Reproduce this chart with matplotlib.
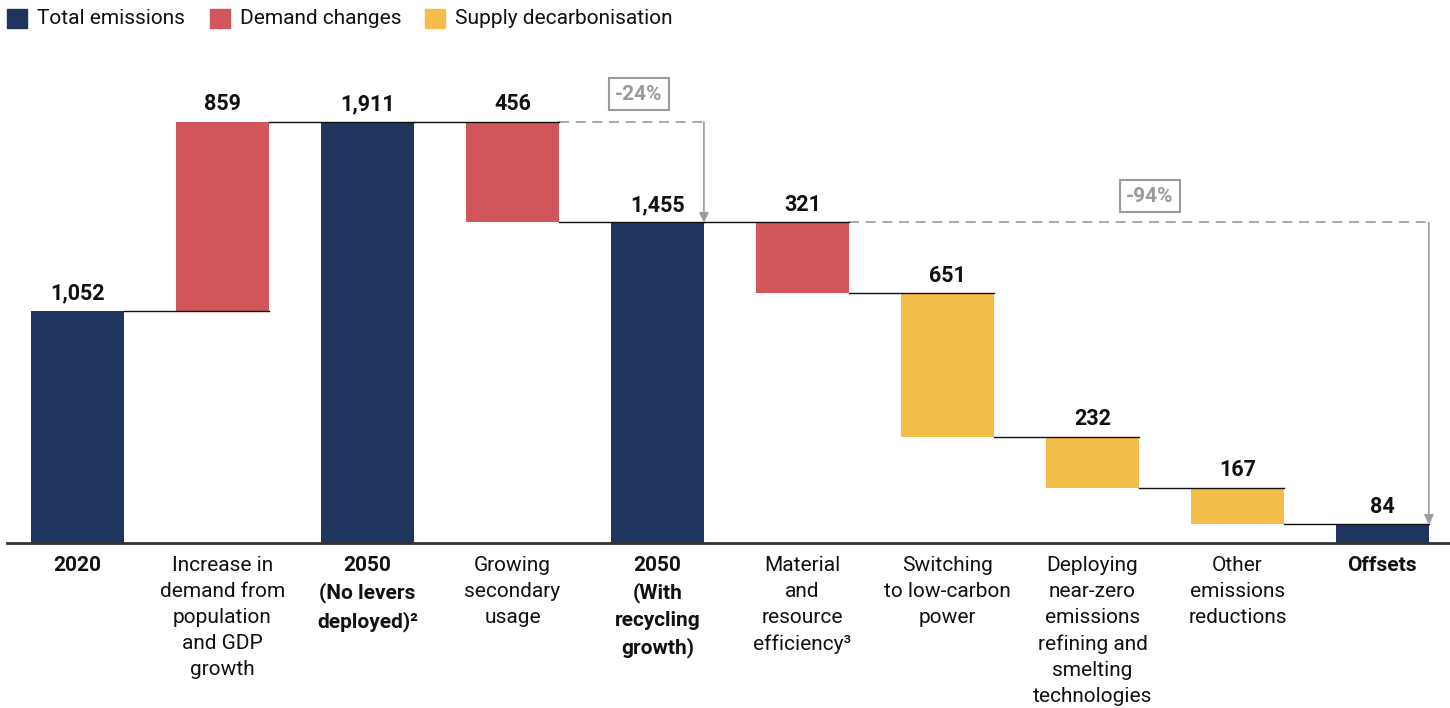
import matplotlib
matplotlib.use("Agg")
import matplotlib.pyplot as plt
from matplotlib.patches import Rectangle

plt.rcParams['font.family'] = ['Roboto', 'DejaVu Sans']

# Waterfall steps (Mt CO2e)
categories = [
    "2020",
    "Increase in\ndemand from\npopulation\nand GDP\ngrowth",
    "2050\n(No levers\ndeployed)²",
    "Growing\nsecondary\nusage",
    "2050\n(With\nrecycling\ngrowth)",
    "Material\nand\nresource\nefficiency³",
    "Switching\nto low-carbon\npower",
    "Deploying\nnear-zero\nemissions\nrefining and\nsmelting\ntechnologies",
    "Other\nemissions\nreductions",
    "Offsets",
]
values = [1052, 859, 1911, -456, 1455, -321, -651, -232, -167, 84]
kinds = ["total", "demand", "total", "demand", "total",
         "demand", "supply", "supply", "supply", "total"]
bold_labels = [True, False, True, False, True, False, False, False, False, True]

colors = {"total": "#1F355E", "demand": "#D0565A", "supply": "#F3BD4A"}
legend_names = {"total": "Total emissions", "demand": "Demand changes",
                "supply": "Supply decarbonisation"}

W, H = 1450, 708
fig = plt.figure(figsize=(W / 100, H / 100), dpi=100)
ax = fig.add_axes([7 / W, (H - 543) / H, 1443 / W, 543 / H])

px_per_unit = 0.2203
ymax = 543 / px_per_unit
ax.set_xlim(-0.486, 9.466)
ax.set_ylim(0, ymax)
bw = 0.641

# compute bar bottoms/tops
bottoms, tops = [], []
level = 0
for v, k in zip(values, kinds):
    if k == "total":
        b, t = 0, v
        level = v
    else:
        if v >= 0:
            b, t = level, level + v
        else:
            b, t = level + v, level
        level = level + v
    bottoms.append(b)
    tops.append(t)

for i, (v, k) in enumerate(zip(values, kinds)):
    ax.bar(i, tops[i] - bottoms[i], bottom=bottoms[i], width=bw,
           color=colors[k], zorder=2)

# connector lines between consecutive bars
for i in range(len(values) - 1):
    if kinds[i] == "total":
        lvl = tops[i]
    else:
        lvl = tops[i] if values[i] > 0 else bottoms[i]
    ax.plot([i + bw / 2, i + 1 + bw / 2], [lvl, lvl], color="#111111",
            lw=1.0, zorder=3)

# value labels
for i, v in enumerate(values):
    ax.text(i, tops[i] + 30, f"{abs(v):,}", ha="center", va="bottom",
            fontsize=15.5, fontweight="bold", color="#111111")

# category labels
for i, c in enumerate(categories):
    ax.text(i, -60, c, ha="center", va="top", fontsize=15,
            fontweight="bold" if bold_labels[i] else "normal",
            color="#111111", linespacing=1.47, clip_on=False)

# baseline
for s in ["top", "right", "left"]:
    ax.spines[s].set_visible(False)
ax.spines["bottom"].set_color("#333333")
ax.spines["bottom"].set_linewidth(2)
ax.set_xticks([])
ax.set_yticks([])


def reduction(x_from, x_to, y_from, y_to, box_x, box_y):
    gray = "#9B9B9B"
    ax.plot([x_from, x_to], [y_from, y_from], color=gray, lw=1.2,
            ls=(0, (6, 4)), zorder=1)
    ax.annotate("", xy=(x_to, y_to), xytext=(x_to, y_from),
                arrowprops=dict(arrowstyle="-|>", color=gray, lw=1.2,
                                mutation_scale=14, shrinkA=0, shrinkB=0))
    pct = round((y_to - y_from) / y_from * 100)
    ax.text(box_x, box_y, f"{pct}%", ha="center", va="center", fontsize=15,
            fontweight="bold", color=gray,
            bbox=dict(boxstyle="square,pad=0.3", fc="white", ec=gray, lw=1.5))


reduction(3 + bw / 2, 4 + bw / 2, tops[2], tops[4], 3.872, 2038)
reduction(5 + bw / 2, 9 + bw / 2, tops[4], tops[9], 7.397, 1575)

# legend
lx = [7, 210, 425]
for x, k in zip(lx, ["total", "demand", "supply"]):
    fig.patches.append(Rectangle((x / W, 1 - 28 / H), 20 / W, 19 / H,
                                 transform=fig.transFigure,
                                 color=colors[k]))
    fig.text((x + 30) / W, 1 - 18.5 / H, legend_names[k], ha="left",
             va="center", fontsize=15, color="#111111")

fig.savefig("out.png", dpi=100)
